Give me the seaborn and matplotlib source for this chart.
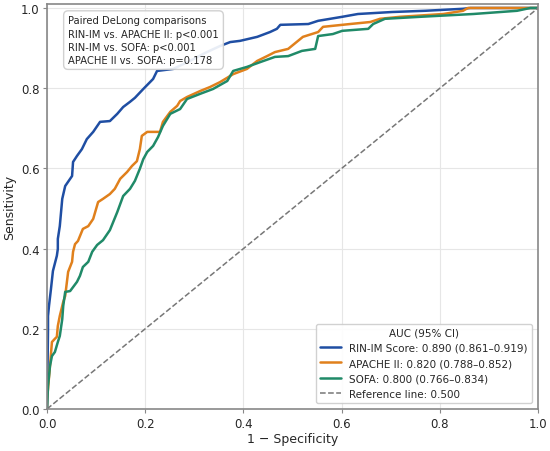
import numpy as np
import pandas as pd
import matplotlib
matplotlib.use("Agg")
import matplotlib.pyplot as plt
import seaborn as sns

# ROC points (1 - specificity, sensitivity)
rin_fpr = [0, 0.002, 0.002, 0.004, 0.008, 0.012, 0.020, 0.022, 0.022, 0.026, 0.031, 0.037,
           0.051, 0.053, 0.061, 0.071, 0.081, 0.094, 0.108, 0.128, 0.143, 0.155, 0.169,
           0.179, 0.196, 0.216, 0.224, 0.257, 0.291, 0.322, 0.352, 0.373, 0.393, 0.428,
           0.454, 0.468, 0.475, 0.532, 0.552, 0.601, 0.633, 0.703, 0.770, 0.847, 0.862, 1.0]
rin_tpr = [0, 0.200, 0.232, 0.257, 0.299, 0.344, 0.382, 0.399, 0.424, 0.456, 0.524, 0.556,
           0.581, 0.616, 0.631, 0.648, 0.673, 0.691, 0.716, 0.718, 0.736, 0.753, 0.766,
           0.776, 0.798, 0.823, 0.843, 0.848, 0.868, 0.888, 0.905, 0.915, 0.918, 0.928,
           0.940, 0.948, 0.958, 0.960, 0.968, 0.978, 0.985, 0.990, 0.993, 0.998, 1.0, 1.0]

apache_fpr = [0, 0, 0.002, 0.006, 0.010, 0.016, 0.020, 0.022, 0.026, 0.033, 0.037, 0.043,
              0.051, 0.053, 0.057, 0.063, 0.073, 0.084, 0.094, 0.104, 0.114, 0.128, 0.138,
              0.149, 0.163, 0.173, 0.183, 0.189, 0.193, 0.204, 0.230, 0.236, 0.251, 0.265,
              0.271, 0.285, 0.312, 0.332, 0.352, 0.379, 0.407, 0.428, 0.448, 0.464, 0.491,
              0.511, 0.521, 0.552, 0.562, 0.617, 0.658, 0.678, 0.719, 0.807, 0.847, 0.857, 1.0]
apache_tpr = [0, 0.025, 0.050, 0.107, 0.167, 0.175, 0.180, 0.207, 0.232, 0.267, 0.282, 0.342,
              0.367, 0.392, 0.411, 0.419, 0.449, 0.456, 0.474, 0.516, 0.524, 0.536, 0.549,
              0.574, 0.591, 0.606, 0.618, 0.648, 0.681, 0.691, 0.691, 0.716, 0.741, 0.756,
              0.768, 0.778, 0.793, 0.803, 0.815, 0.835, 0.848, 0.868, 0.880, 0.890, 0.898,
              0.918, 0.928, 0.940, 0.953, 0.960, 0.965, 0.973, 0.978, 0.985, 0.993, 1.0, 1.0]

sofa_fpr = [0, 0.002, 0.006, 0.010, 0.016, 0.022, 0.026, 0.031, 0.033, 0.037, 0.047, 0.061,
            0.067, 0.073, 0.084, 0.092, 0.102, 0.114, 0.128, 0.143, 0.155, 0.169, 0.179,
            0.189, 0.196, 0.204, 0.216, 0.226, 0.236, 0.251, 0.271, 0.285, 0.312, 0.338,
            0.367, 0.379, 0.407, 0.434, 0.464, 0.491, 0.519, 0.546, 0.552, 0.582, 0.601,
            0.654, 0.664, 0.688, 0.760, 0.868, 0.957, 0.984, 1.0]
sofa_tpr = [0, 0.057, 0.107, 0.132, 0.142, 0.167, 0.182, 0.224, 0.257, 0.292, 0.294, 0.317,
            0.332, 0.354, 0.367, 0.392, 0.409, 0.421, 0.446, 0.491, 0.531, 0.549, 0.569,
            0.599, 0.623, 0.641, 0.656, 0.678, 0.706, 0.736, 0.748, 0.773, 0.786, 0.798,
            0.818, 0.843, 0.853, 0.865, 0.878, 0.880, 0.893, 0.898, 0.930, 0.935, 0.943,
            0.948, 0.960, 0.973, 0.978, 0.985, 0.993, 1.0, 1.0]

labels = ["RIN-IM Score: 0.890 (0.861\u20130.919)",
          "APACHE II: 0.820 (0.788\u20130.852)",
          "SOFA: 0.800 (0.766\u20130.834)"]
colors = ["#1f4ea3", "#e0801c", "#208a68"]
ref_label = "Reference line: 0.500"

delong_text = ("Paired DeLong comparisons\n"
               "RIN-IM vs. APACHE II: p<0.001\n"
               "RIN-IM vs. SOFA: p<0.001\n"
               "APACHE II vs. SOFA: p=0.178")

sns.set_style("whitegrid")

fig = plt.figure(figsize=(5.5, 4.52), dpi=100)
ax = fig.add_axes([0.0855, 0.093, 0.893, 0.896])

curves = [(rin_fpr, rin_tpr), (apache_fpr, apache_tpr), (sofa_fpr, sofa_tpr)]
for (fpr, tpr), lab, col in zip(curves, labels, colors):
    df = pd.DataFrame({"fpr": fpr, "tpr": tpr})
    sns.lineplot(data=df, x="fpr", y="tpr", sort=False, estimator=None, ax=ax,
                 color=col, lw=1.8, label=lab)

ax.plot([0, 1], [0, 1], ls="--", color="#777777", lw=1.1, label=ref_label)

ax.set_xlim(0, 1)
ax.set_ylim(0, 1.01)
ax.set_xticks([0, 0.2, 0.4, 0.6, 0.8, 1.0])
ax.set_yticks([0, 0.2, 0.4, 0.6, 0.8, 1.0])
ax.tick_params(labelsize=8.5, length=3, pad=2.5, color="#888888", bottom=True, left=True)
ax.set_xlabel("1 \u2212 Specificity", fontsize=9, labelpad=2)
ax.set_ylabel("Sensitivity", fontsize=9, labelpad=3)
ax.grid(True, color="#e6e6e6", lw=0.8)
for s in ax.spines.values():
    s.set_color("#888888")
    s.set_linewidth(1.2)

leg = ax.legend(loc="lower right", title="AUC (95% CI)", fontsize=7.5, title_fontsize=7.5,
                frameon=True, framealpha=0.9, edgecolor="#cccccc", borderaxespad=0.6)

ax.text(0.043, 0.972, delong_text, transform=ax.transAxes, va="top", ha="left", fontsize=7.2,
        linespacing=1.4,
        bbox=dict(boxstyle="round,pad=0.45", fc="white", ec="#cccccc", alpha=0.9))

fig.savefig("out.png", dpi=100)
